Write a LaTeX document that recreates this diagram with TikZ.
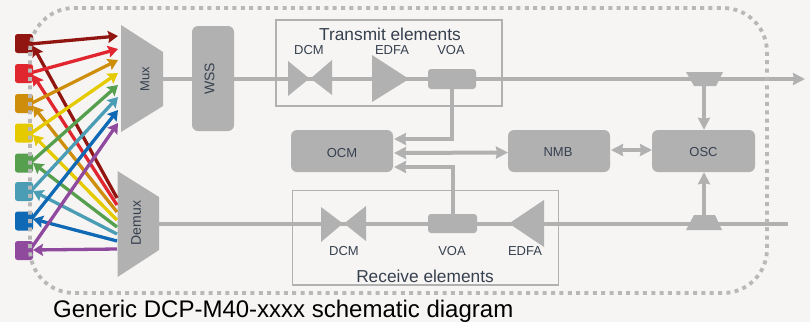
\documentclass[tikz,border=0pt]{standalone}
\usepackage{fontspec}
\setmainfont{Liberation Sans}
\usetikzlibrary{arrows.meta,calc}
\definecolor{bgc}{HTML}{F6F5F3}
\definecolor{grayf}{HTML}{B1B1B1}
\definecolor{dotc}{HTML}{B8B8B8}
\definecolor{labelc}{HTML}{36404F}
\definecolor{cdred}{HTML}{911611}
\definecolor{cred}{HTML}{E0262F}
\definecolor{corange}{HTML}{CE8E0B}
\definecolor{cyellow}{HTML}{E6CA00}
\definecolor{cgreen}{HTML}{559F4E}
\definecolor{cteal}{HTML}{4A9DB5}
\definecolor{cblue}{HTML}{1069B5}
\definecolor{cpurple}{HTML}{8F4A9E}
\tikzset{
  grayshape/.style={fill=grayf,draw=none},
  bigbox/.style={grayshape,rounded corners=6pt,inner sep=0pt,text=labelc,font=\fontsize{13}{15}\selectfont},
  voabox/.style={grayshape,rounded corners=3pt,inner sep=0pt,minimum width=48pt,minimum height=20pt},
  frameb/.style={draw=grayf,line width=1.5pt,fill=none},
  lbl/.style={text=labelc,inner sep=0pt,font=\fontsize{13}{15}\selectfont},
  ttl/.style={text=labelc,inner sep=0pt,font=\fontsize{17.3}{20}\selectfont},
  wire/.style={draw=grayf,line width=4pt},
  wirea/.style={wire,-{Stealth[length=12pt,width=12pt,inset=1pt]}},
  wireb/.style={wire,{Stealth[length=12pt,width=12pt,inset=1pt]}-{Stealth[length=12pt,width=12pt,inset=1pt]}},
  chan/.style={line width=3.3pt,-{Stealth[length=10pt,width=12pt,inset=1.5pt]}},
  sq/.style={rounded corners=2.5pt,inner sep=0pt,minimum width=18pt,minimum height=19pt},
  dots/.style={draw=dotc,line width=3.8pt,dash pattern=on 4pt off 4.35pt}
}
\begin{document}
\begin{tikzpicture}[x=1pt,y=-1pt]
\useasboundingbox (0,0) rectangle (810,322);
\fill[bgc] (0,0) rectangle (810,322);
% frames
\draw[frameb] (276,20) rectangle (502,106);
\draw[frameb] (292.5,190.5) rectangle (558.5,285);
% wires first
\coordinate (muxout) at (163,79);
\coordinate (demuxout) at (159,223.5);
\coordinate (txend) at (805,79);
\coordinate (rxend) at (788,223.5);
\node[bigbox,minimum width=42pt,minimum height=105pt] (wss) at (213,78.5) {};
\node[lbl,rotate=90,font=\fontsize{14}{16}\selectfont] (wssl) at (209.5,79) {WSS};
\draw[wire] (muxout) -- (wss.west |- muxout);
\draw[wirea] (wss.east |- muxout) -- (txend);
\draw[wire] (demuxout) -- (rxend);
% amplifiers etc.
\fill[grayshape] (288,61) -- (310,79) -- (332,60) -- (332,95) -- (310,78) -- (288,96) -- cycle;
\fill[grayshape] (372,55) -- (409,79) -- (372,102) -- cycle;
\node[voabox] (voat) at (452,79) {};
\fill[grayshape] (321,207) -- (343.5,224) -- (366,206) -- (366,241) -- (343.5,223) -- (321,242) -- cycle;
\node[voabox,minimum width=49pt,minimum height=19pt] (voar) at (452.5,223.5) {};
\fill[grayshape] (509,223.5) -- (544,200) -- (544,247) -- cycle;
% boxes
\node[bigbox,minimum width=102pt,minimum height=42pt] (ocm) at (342,151) {};
\node[lbl] at (342,153) {OCM};
\node[bigbox,minimum width=102pt,minimum height=42pt] (nmb) at (559,151) {};
\node[lbl] at (558,152) {NMB};
\node[bigbox,minimum width=103pt,minimum height=42pt] (osc) at (703.5,151) {};
\node[lbl] at (703.5,152) {OSC};
% taps
\fill[grayshape] (686,72) -- (723,72) -- (716,86) -- (694,86) -- cycle;
\fill[grayshape] (686,230) -- (722,230) -- (715,215) -- (694,215) -- cycle;
\coordinate (tapt) at (704,86);
\coordinate (tapr) at (704,215);
\draw[wirea] (tapt) -- (osc.north -| tapt);
\draw[wirea] (tapr) -- (osc.south -| tapr);
% OCM connectors
\coordinate (ocmtop) at (394,139);
\coordinate (ocmmid) at (394,153);
\coordinate (ocmlow) at (394,167);
\coordinate (nmbin) at (508,152.5);
\draw[wirea] (voat.south) -- (voat.south |- ocmtop) -- (ocmtop);
\draw[wireb] (ocmmid) -- (nmbin);
\draw[wirea] (voar.north) -- (voar.north |- ocmlow) -- (ocmlow);
\coordinate (nmbr) at (611,150);
\coordinate (oscl) at (652,150);
\draw[wireb] (nmbr) -- (oscl);
% mux / demux
\fill[grayshape] (121,25) -- (163,52) -- (163,106) -- (121,132) -- cycle;
\fill[grayshape] (117.5,171) -- (159,197) -- (159,250) -- (117.5,277) -- cycle;
\node[lbl,rotate=90] (muxl) at (145,79) {Mux};
\node[lbl,rotate=90,font=\fontsize{14}{16}\selectfont] (demuxl) at (136,223) {Demux};
% channel ports
\foreach \n/\c/\ys/\ya/\yb/\yd/\yt in {
 1/cdred/43.5/44/36/198/46,
 2/cred/73.5/73/49/205/75,
 3/corange/103.5/104/60/212/106,
 4/cyellow/133/134/73/220/135,
 5/cgreen/163/163/85/227/163,
 6/cteal/191.5/192/97/234/191,
 7/cblue/221/221/110/241/219,
 8/cpurple/250.5/250/123/249/250}{
  \node[sq,fill=\c] (s\n) at (24,\ys) {};
  \coordinate (so\n) at (30,\ya);
  \coordinate (mi\n) at (118,\yb);
  \coordinate (do\n) at (117,\yd);
  \coordinate (si\n) at (33,\yt);
}
\foreach \n/\c in {1/cdred,2/cred,3/corange,4/cyellow,5/cgreen,6/cteal,7/cblue,8/cpurple}{
  \draw[chan,draw=\c,fill=\c] (do\n) -- (si\n);
}
\foreach \n/\c in {8/cpurple,7/cblue,6/cteal,5/cgreen,4/cyellow,3/corange,2/cred,1/cdred}{
  \draw[chan,draw=\c,fill=\c] (so\n) -- (mi\n);
}
% dotted enclosure
\draw[dots,rounded corners=44pt] (30,8) rectangle (767,293);
% labels
\node[ttl] (ttx) at (390,34) {Transmit elements};
\node[lbl] (l1) at (309,50) {DCM};
\node[lbl] (l2) at (392,50) {EDFA};
\node[lbl] (l3) at (451,50) {VOA};
\node[lbl] (l4) at (344,251) {DCM};
\node[lbl] (l5) at (452,251) {VOA};
\node[lbl] (l6) at (525,251) {EDFA};
\node[ttl] (trx) at (425,276) {Receive elements};
\node[inner sep=0pt,anchor=base west,text=black,font=\fontsize{24}{27}\selectfont] (cap) at (53,317) {Generic DCP-M40-xxxx schematic diagram};
\end{tikzpicture}
\end{document}
